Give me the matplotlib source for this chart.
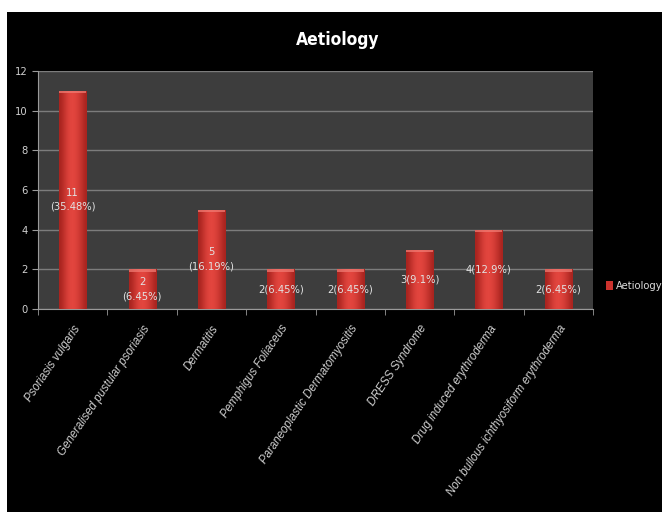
import matplotlib
matplotlib.use("Agg")
import matplotlib.pyplot as plt
import numpy as np
from matplotlib.patches import Rectangle, Patch

plt.rcParams['font.family'] = ['Liberation Sans Narrow', 'DejaVu Sans']
plt.rcParams['font.stretch'] = 'condensed'

# data
categories = ['Psoriasis vulgaris', 'Generalised pustular psoriasis', 'Dermatitis',
              'Pemphigus Foliaceus', 'Paraneoplastic Dermatomyositis', 'DRESS Syndrome',
              'Drug induced erythroderma', 'Non bullous ichthyosiform erythroderma']
counts = [11, 2, 5, 2, 2, 3, 4, 2]
bar_labels = ['11\n(35.48%)', '2\n(6.45%)', '5\n(16.19%)', '2(6.45%)',
              '2(6.45%)', '3(9.1%)', '4(12.9%)', '2(6.45%)']
yticks = [0, 2, 4, 6, 8, 10, 12]

fig = plt.figure(figsize=(6.62, 5.12), dpi=100)
fig.patch.set_facecolor('white')
# black slide background with thin white margin top/left
fig.patches.append(Rectangle((7 / 662, 0), 1, 500 / 512, transform=fig.transFigure,
                             facecolor='black', edgecolor='none', zorder=-5))

ax = fig.add_axes([38 / 662, 203 / 512, 555 / 662, 238 / 512])
ax.set_facecolor('#3d3d3d')

x = np.arange(len(categories))
w = 0.39
bars = ax.bar(x, counts, width=w, color='#cc322d', zorder=2)

# shading on bars
grad = np.array([[0.0, 0.3, 0.6, 0.8, 0.85, 0.75, 0.55, 0.3, 0.0]])
cmap = matplotlib.colors.LinearSegmentedColormap.from_list('r', ['#a9241f', '#e4463f'])
for b, v in zip(bars, counts):
    im = ax.imshow(grad, extent=(b.get_x(), b.get_x() + w, 0, v), aspect='auto',
                   cmap=cmap, interpolation='bicubic', zorder=3)
    im.set_clip_path(b)
    ax.add_patch(Rectangle((b.get_x(), v - 0.13), w, 0.13, facecolor='#f07a72',
                           edgecolor='none', alpha=0.75, zorder=4))

for xi, v, lab in zip(x, counts, bar_labels):
    ax.text(xi, v / 2, lab, ha='center', va='center', color='#e2e2e2',
            fontsize=8, linespacing=1.5, zorder=5)

ax.set_xlim(-0.5, len(categories) - 0.5)
ax.set_ylim(0, 12)
ax.set_yticks(yticks)
ax.yaxis.grid(True, color='#7c7c7c', linewidth=1)
ax.set_axisbelow(True)

ax.set_xticks(x)
ax.set_xticklabels(categories, rotation=56, ha='right', rotation_mode='anchor',
                   family=['Liberation Sans', 'DejaVu Sans'], fontstyle='italic',
                   fontstretch='normal', fontsize=8.3, color='#cfcfcf')
ax.tick_params(axis='x', length=0, pad=10)
ax.set_xticks(np.arange(-0.5, len(categories)), minor=True)
ax.tick_params(axis='x', which='minor', length=4, color='#9a9a9a')
ax.tick_params(axis='y', length=4, color='#9a9a9a', labelcolor='#d0d0d0', labelsize=8)

for s in ['top', 'right']:
    ax.spines[s].set_visible(False)
for s in ['left', 'bottom']:
    ax.spines[s].set_color('#9a9a9a')

fig.text(0.51, 1 - 40 / 512, 'Aetiology', ha='center', va='center', color='white',
         fontsize=12.5, fontweight='bold')

fig.legend(handles=[Patch(facecolor='#cc322d', label='Aetiology')],
           loc='center left', bbox_to_anchor=(606 / 662, 1 - 286 / 512), frameon=False,
           handlelength=0.6, handleheight=0.9, handletextpad=0.3, borderaxespad=0,
           borderpad=0, labelcolor='#dcdcdc', fontsize=8)

fig.savefig('out.png', dpi=100, facecolor=fig.get_facecolor())
